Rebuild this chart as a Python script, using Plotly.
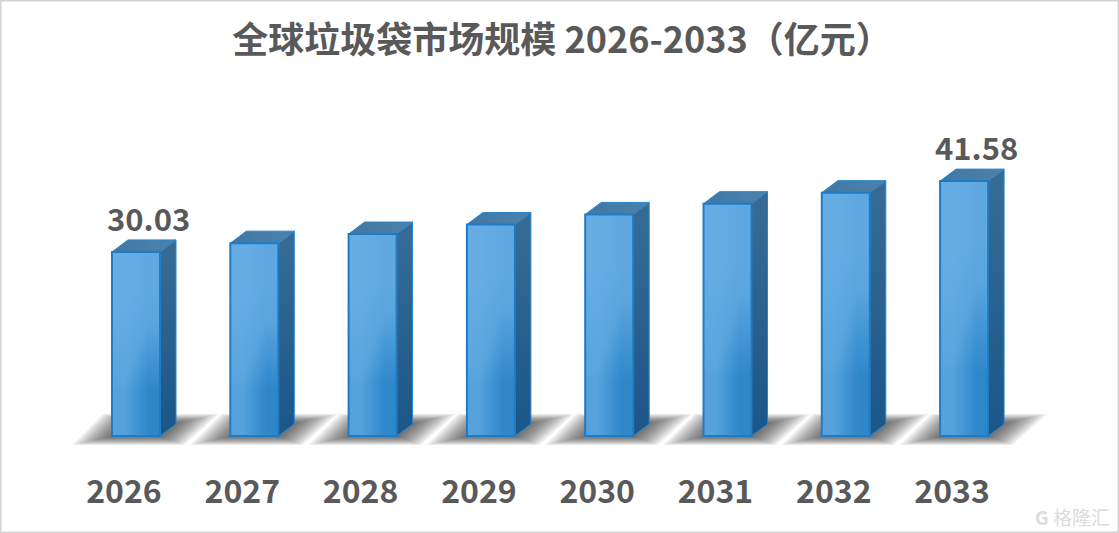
import plotly.graph_objects as go

# ==========================================
# DATA
# ==========================================
years = ['2026', '2027', '2028', '2029', '2030', '2031', '2032', '2033']
values = [30.03, 31.46, 32.95, 34.50, 36.15, 37.90, 39.70, 41.58]
labelled = {0: '30.03', 7: '41.58'}

title = '全球垃圾袋市场规模 2026-2033（亿元）'
watermark = '格隆汇'

# ==========================================
# GEOMETRY OF THE FAKE 3D BARS (axis units)
# ==========================================
x_px = 118.3           # pixels per category
y_px = 6.13            # pixels per value unit
bar_off = -12 / x_px   # left edge of the front face, relative to the tick
bar_w = 48 / x_px
depth_x = 16 / x_px
depth_y = 12 / y_px

TEXT = '#595959'
FONT = 'Noto Sans CJK SC, Noto Sans, sans-serif'

fig = go.Figure()

# ==========================================
# FLOOR SHADOWS
# ==========================================
shadow_scales = [1.0, 0.95, 0.9, 0.85, 0.8, 0.75, 0.7, 0.65, 0.6, 0.55, 0.5, 0.45, 0.4, 0.35, 0.3]
for i in range(len(years)):
    cx = i + bar_off + 32 / x_px
    cy = 6 / y_px
    for s in shadow_scales:
        bl = (cx + s * (-72 / x_px), cy + s * (-15 / y_px))
        br = (cx + s * (40 / x_px), cy + s * (-15 / y_px))
        tr = (cx + s * (75 / x_px), cy + s * (16 / y_px))
        tl = (cx + s * (-41 / x_px), cy + s * (16 / y_px))
        pts = [bl, br, tr, tl, bl]
        fig.add_trace(go.Scatter(
            x=[p[0] for p in pts], y=[p[1] for p in pts],
            mode='lines', line=dict(width=0), fill='toself',
            fillcolor='rgba(30,30,30,0.075)', hoverinfo='skip'
        ))

# ==========================================
# BARS
# ==========================================
for i, v in enumerate(values):
    x0 = i + bar_off
    x1 = x0 + bar_w

    # right face
    fig.add_trace(go.Scatter(
        x=[x1, x1 + depth_x, x1 + depth_x, x1, x1],
        y=[0, depth_y, v + depth_y, v, 0],
        mode='lines', line=dict(color='#2a86cc', width=1), fill='toself',
        fillgradient=dict(type='vertical', colorscale=[[0, '#1a5688'], [1, '#386c96']]),
        hoverinfo='skip'
    ))
    # top face
    fig.add_trace(go.Scatter(
        x=[x0, x1, x1 + depth_x, x0 + depth_x, x0],
        y=[v, v, v + depth_y, v + depth_y, v],
        mode='lines', line=dict(color='#2a86cc', width=1), fill='toself',
        fillgradient=dict(type='horizontal', colorscale=[[0, '#3f78a6'], [1, '#4d81aa']]),
        hoverinfo='skip'
    ))
    # front face, diagonal gradient. Sits on overlay axes so it covers the shadows
    fig.add_trace(go.Heatmap(
        x=[x0 + bar_w / 4, x1 - bar_w / 4], y=[v / 4, v * 3 / 4], z=[[0.55, 1], [0, 0.3]],
        zsmooth='best', showscale=False, zmin=0, zmax=1, hoverinfo='skip',
        colorscale=[[0, '#66ade4'], [0.5, '#5aa5df'], [1, '#2f87ca']],
        xaxis='x2', yaxis='y2'
    ))

fig.add_trace(go.Bar(
    x=[i + bar_off + bar_w / 2 for i in range(len(values))],
    y=values, width=bar_w,
    marker=dict(color='rgba(0,0,0,0)', line=dict(color='#1f7cc4', width=2)),
    hoverinfo='skip', xaxis='x2', yaxis='y2'
))

# ==========================================
# TEXT
# ==========================================
for i, txt in labelled.items():
    fig.add_annotation(
        x=i + 24 / x_px, y=values[i] + 5.6, text=txt, showarrow=False,
        font=dict(family=FONT, size=31, color=TEXT, weight='bold')
    )

fig.add_annotation(
    xref='paper', yref='paper', x=1112 / 1119, y=-0.159, xanchor='right', yanchor='middle',
    text='<b>G</b> ' + watermark, showarrow=False,
    font=dict(family=FONT, size=19, color='#dcdcdc')
)

# ==========================================
# LAYOUT
# ==========================================
x_range = [-124 / x_px, (1119 - 124) / x_px]
y_range = [-10 / y_px, 436 / y_px]

fig.update_layout(
    width=1119, height=533,
    margin=dict(l=0, r=0, t=0, b=87),
    paper_bgcolor='white', plot_bgcolor='white',
    showlegend=False,
    title=dict(
        text=title, x=562 / 1119, xanchor='center', y=0.925, yanchor='middle',
        font=dict(family=FONT, size=36, color=TEXT, weight='bold')
    ),
    shapes=[dict(
        type='rect', xref='paper', yref='paper', x0=0, x1=1, y0=-0.195, y1=1,
        line=dict(color='#d4d4d4', width=3), fillcolor='rgba(0,0,0,0)'
    )],
    xaxis=dict(
        range=x_range,
        tickmode='array', tickvals=list(range(len(years))), ticktext=years,
        ticks='outside', ticklen=18, tickcolor='rgba(0,0,0,0)',
        tickfont=dict(family=FONT, size=32, color=TEXT, weight='bold'),
        showgrid=False, zeroline=False, showline=False
    ),
    yaxis=dict(range=y_range, visible=False),
    xaxis2=dict(range=x_range, overlaying='x', visible=False),
    yaxis2=dict(range=y_range, overlaying='y', visible=False)
)

fig.write_html(
    "out.html",
    config=dict(displayModeBar=False),
    post_script="document.body.style.margin='0';"
)
